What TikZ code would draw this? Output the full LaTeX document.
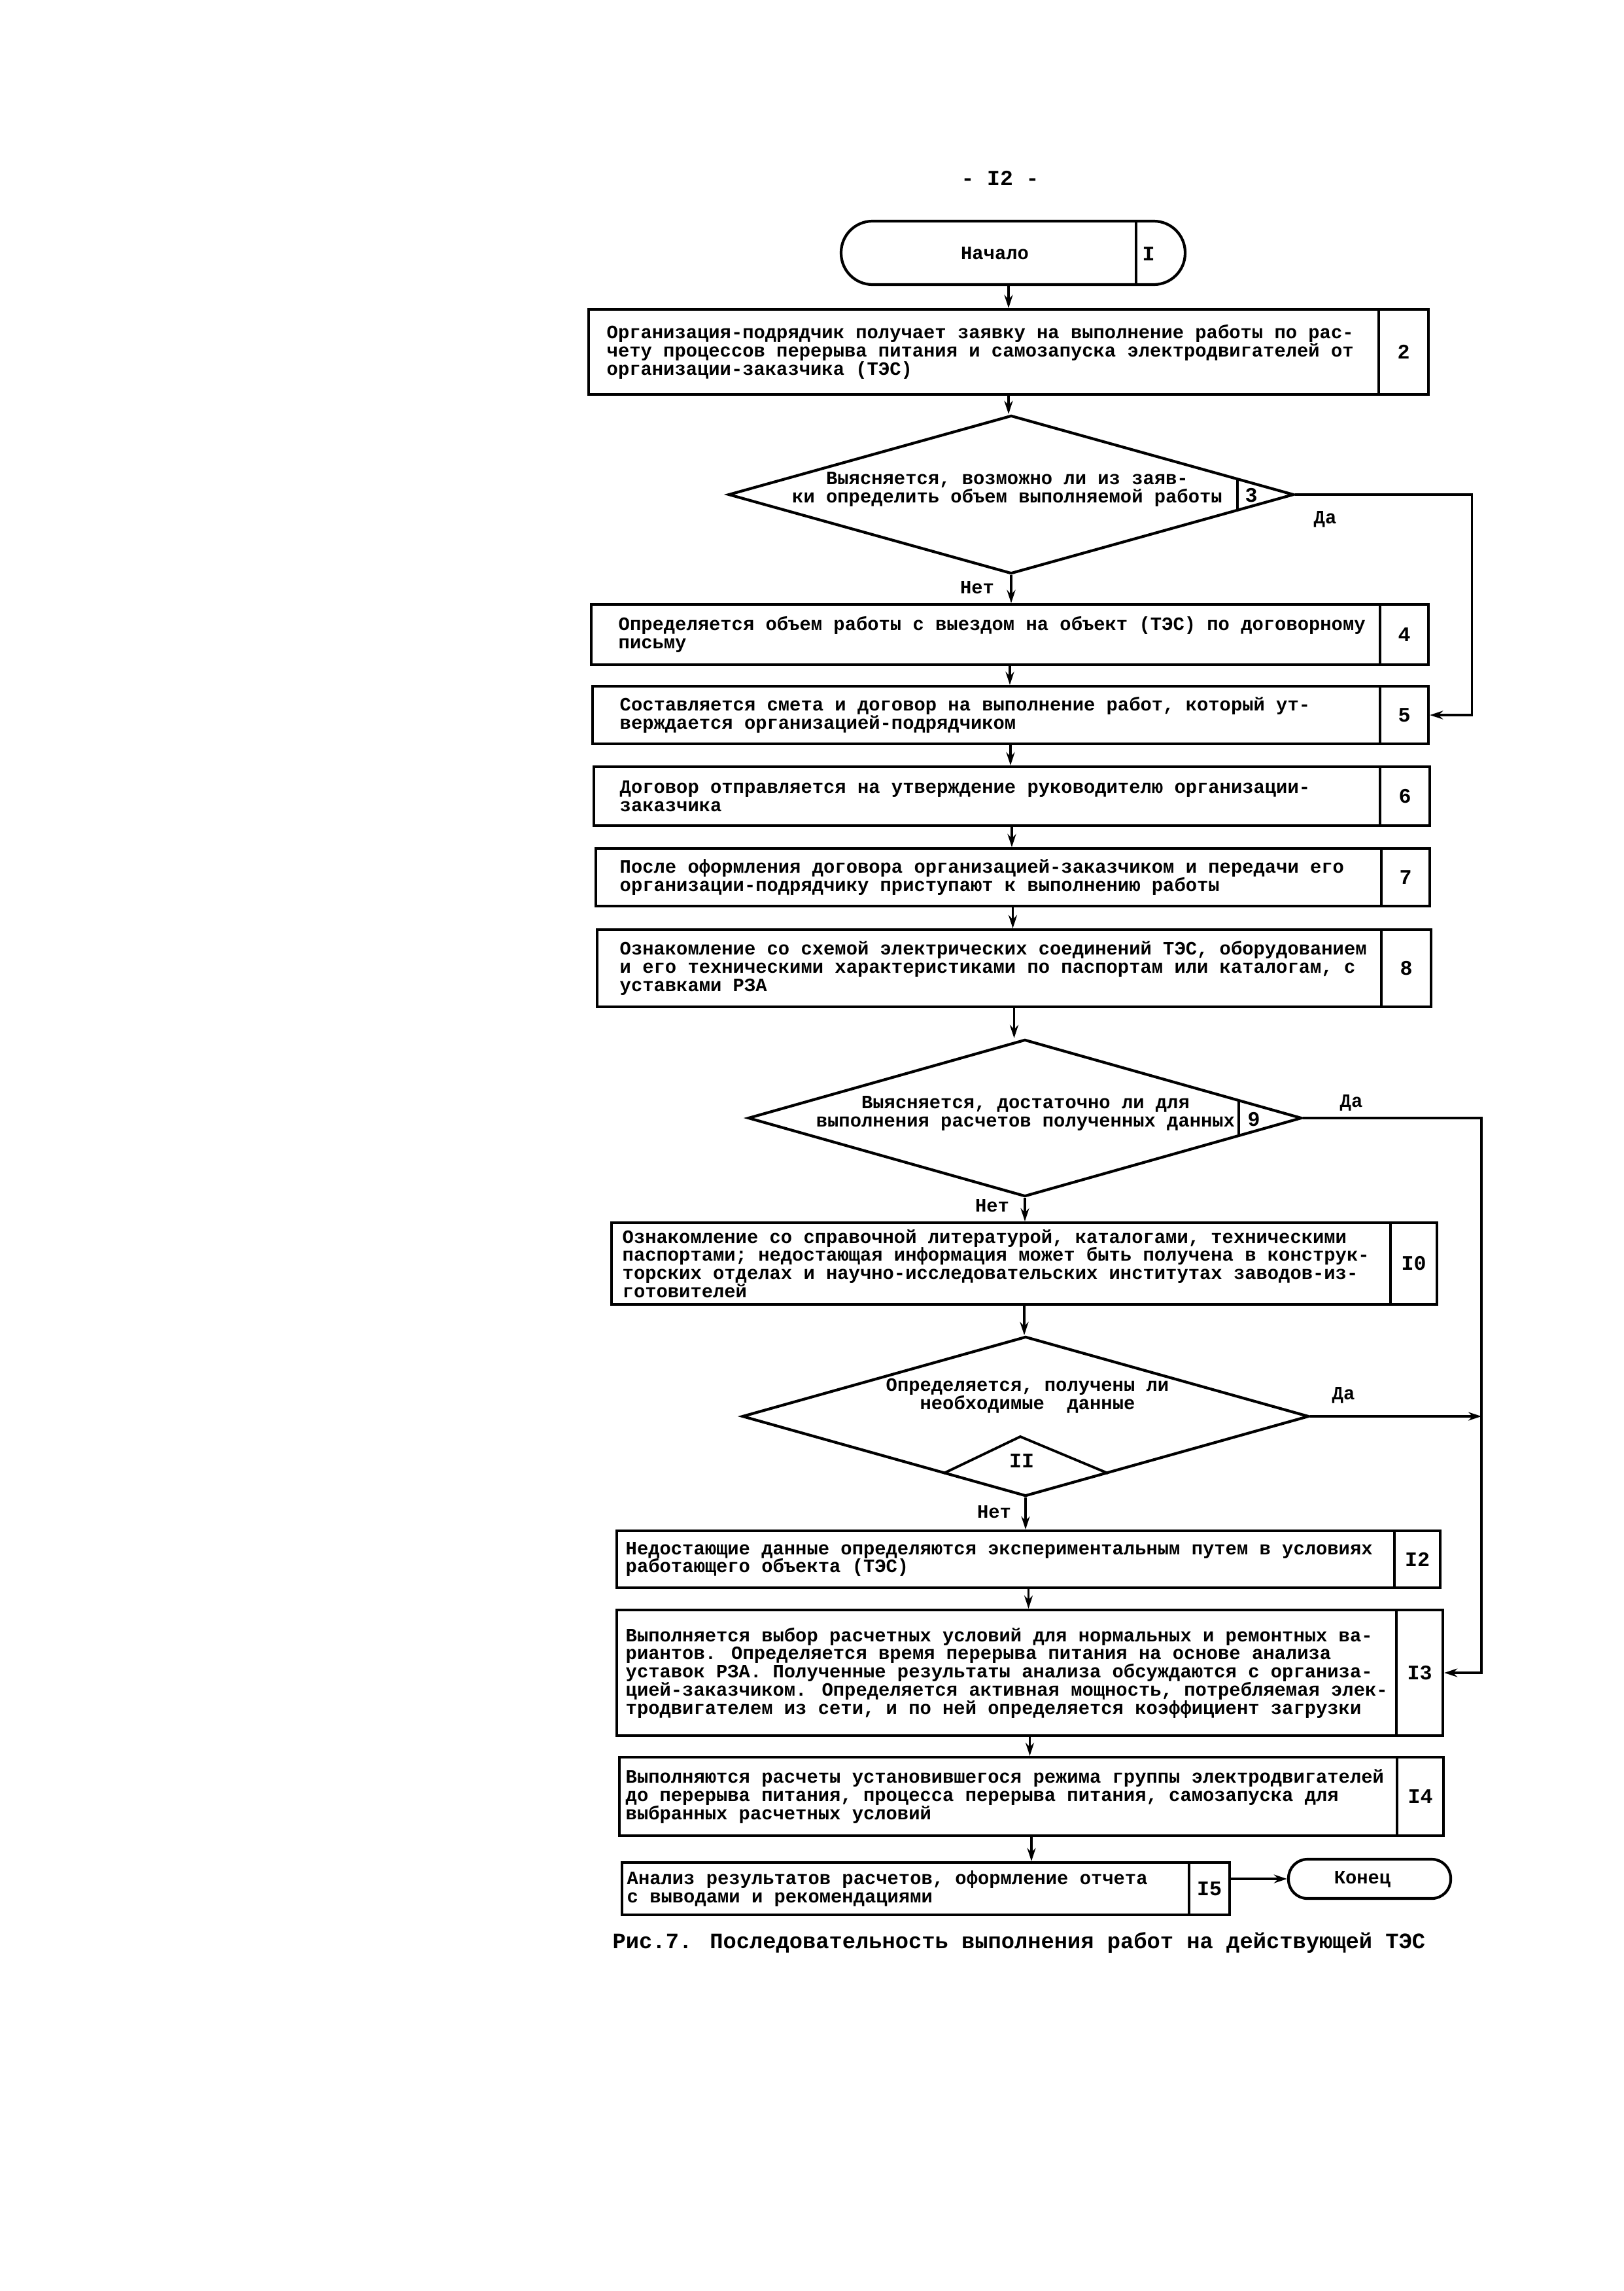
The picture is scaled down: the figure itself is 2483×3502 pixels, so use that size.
\documentclass[tikz,border=0pt]{standalone}
\usepackage{fontspec}
\setmainfont{Liberation Mono}
\usetikzlibrary{shapes.geometric,fit,arrows.meta}
\newcommand\procbox[9]{%
  \node[prc, fit={(#2,#3) (#4,#5)}] (#1) {};
  \draw[divl] (#6,#3) -- (#6,#5);
  \node[numtext] (#1n) at ({(#6+#4)/2},{(#3+#5)/2}) {#7};
  \node[boxtext] (#1t) at (#8,{(#3+#5)/2}) {#9};
}
\begin{document}
\begin{tikzpicture}[x=0.01cm,y=-0.01cm,
  every node/.style={font=\bfseries\fontsize{8.2pt}{7.9pt}\selectfont},
  prc/.style={draw, line width=1.2pt, inner sep=0pt, rectangle},
  trm/.style={draw, line width=1.2pt, inner sep=0pt, rectangle},
  divl/.style={line width=1.1pt},
  dmd/.style={draw, diamond, line width=1.2pt, inner sep=0pt},
  numtext/.style={inner sep=0pt, font=\bfseries\fontsize{9pt}{9pt}\selectfont},
  boxtext/.style={inner sep=0pt, anchor=west, align=left},
  dtext/.style={inner sep=0pt, align=center},
  lbl/.style={inner sep=0pt},
  arr/.style={line width=0.9pt, -{Stealth[length=0.2cm,width=0.13cm]}},
  ln/.style={line width=0.9pt}
]
\useasboundingbox (0,0) rectangle (2483,3502);
\fill[white] (0,0) rectangle (2483,3502);

% page number
\node[font=\bfseries\fontsize{9.4pt}{10pt}\selectfont] (pg) at (1529,272) {- I2 -};

% start terminal
\node[trm, fit={(1286,338) (1812,435)}, rounded corners=0.48cm] (t1) {};
\draw[divl] (1737,338) -- (1737,435);
\node[lbl] (t1t) at (1521,387) {Начало};
\node[numtext] (t1n) at (1756,388) {I};

% box 2
\procbox{b2}{900}{473}{2184}{603}{2108}{2}{927}{Организация-подрядчик получает заявку на выполнение работы по рас-\\чету процессов перерыва питания и самозапуска электродвигателей от\\организации-заказчика (ТЭС)}

% diamond 3
\node[dmd, minimum width=8.64cm, minimum height=2.42cm] (d3) at (1546,756) {};
\draw[divl] (1892,732) -- (1892,780);
\node[dtext] (d3t) at (1540,748) {Выясняется, возможно ли из заяв-\\ки определить объем выполняемой работы};
\node[numtext] (d3n) at (1913,757) {3};
\node[lbl] (da3) at (2026,794) {Да};
\node[lbl] (net3) at (1494,898) {Нет};

% boxes 4-8
\procbox{b4}{904}{924}{2184}{1016}{2110}{4}{945}{Определяется объем работы с выездом на объект (ТЭС) по договорному\\письму}
\procbox{b5}{906}{1049}{2184}{1137}{2110}{5}{947}{Составляется смета и договор на выполнение работ, который ут-\\верждается организацией-подрядчиком}
\procbox{b6}{908}{1172}{2186}{1262}{2110}{6}{947}{Договор отправляется на утверждение руководителю организации-\\заказчика}
\procbox{b7}{911}{1297}{2186}{1385}{2112}{7}{947}{После оформления договора организацией-заказчиком и передачи его\\организации-подрядчику приступают к выполнению работы}
\procbox{b8}{913}{1421}{2188}{1539}{2112}{8}{947}{Ознакомление со схемой электрических соединений ТЭС, оборудованием\\и его техническими характеристиками по паспортам или каталогам, с\\уставками РЗА}

% diamond 9
\node[dmd, minimum width=8.46cm, minimum height=2.40cm] (d9) at (1567,1709) {};
\draw[divl] (1894,1682) -- (1894,1736);
\node[dtext] (d9t) at (1568,1702) {Выясняется, достаточно ли для\\выполнения расчетов полученных данных};
\node[numtext] (d9n) at (1917,1711) {9};
\node[lbl] (da9) at (2066,1686) {Да};
\node[lbl] (net9) at (1517,1843) {Нет};
\coordinate (ja) at (2265,1709);

% box 10
\procbox{b10}{935}{1869}{2197}{1994}{2126}{I0}{951}{Ознакомление со справочной литературой, каталогами, техническими\\паспортами; недостающая информация может быть получена в конструк-\\торских отделах и научно-исследовательских институтах заводов-из-\\готовителей}

% diamond 11
\node[dmd, minimum width=8.66cm, minimum height=2.44cm] (d11) at (1568,2165) {};
\draw[divl] (1443,2252) -- (1560,2196) -- (1694,2252);
\node[dtext] (d11t) at (1571,2134) {Определяется, получены ли\\необходимые\ \ данные};
\node[numtext] (d11n) at (1562,2233) {II};
\node[lbl] (da11) at (2054,2133) {Да};
\node[lbl] (net11) at (1520,2311) {Нет};

% boxes 12-15
\procbox{b12}{943}{2340}{2202}{2427}{2132}{I2}{956}{Недостающие данные определяются экспериментальным путем в условиях\\работающего объекта (ТЭС)}
\procbox{b13}{943}{2461}{2206}{2653}{2135}{I3}{956}{Выполняется выбор расчетных условий для нормальных и ремонтных ва-\\риантов. Определяется время перерыва питания на основе анализа\\уставок РЗА. Полученные результаты анализа обсуждаются с организа-\\цией-заказчиком. Определяется активная мощность, потребляемая элек-\\тродвигателем из сети, и по ней определяется коэффициент загрузки}
\procbox{b14}{947}{2686}{2207}{2806}{2136}{I4}{956}{Выполняются расчеты установившегося режима группы электродвигателей\\до перерыва питания, процесса перерыва питания, самозапуска для\\выбранных расчетных условий}
\procbox{b15}{951}{2847}{1880}{2927}{1818}{I5}{958}{Анализ результатов расчетов, оформление отчета\\с выводами и рекомендациями}

% end terminal
\node[trm, fit={(1970,2842) (2218,2902)}, rounded corners=0.29cm] (t2) {};
\node[lbl] (t2t) at (2083,2873) {Конец};

% caption
\node[font=\bfseries\fontsize{9.6pt}{11pt}\selectfont] (cap) at (1558,2970) {Рис.7. Последовательность выполнения работ на действующей ТЭС};

% connectors
\draw[arr] (b2.north |- t1.south) -- (b2.north);
\draw[arr] (b2.south) -- (b2.south |- d3.north);
\draw[arr] (d3.south) -- (d3.south |- b4.north);
\draw[arr] (d3.east) -- ++(270,0) |- (b5.east);
\draw[arr] (b4.south) -- (b4.south |- b5.north);
\draw[arr] (b5.south) -- (b5.south |- b6.north);
\draw[arr] (b6.south) -- (b6.south |- b7.north);
\draw[arr] (b7.south) -- (b7.south |- b8.north);
\draw[arr] (b8.south) -- (b8.south |- d9.north);
\draw[arr] (d9.south) -- (d9.south |- b10.north);
\draw[arr] (d9.east) -- (ja) |- (b13.east);
\draw[arr] (b10.south) -- (b10.south |- d11.north);
\draw[arr] (d11.east) -- (d11.east -| ja);
\draw[arr] (d11.south) -- (d11.south |- b12.north);
\draw[arr] (b12.south) -- (b12.south |- b13.north);
\draw[arr] (b13.south) -- (b13.south |- b14.north);
\draw[arr] (b14.south) -- (b14.south |- b15.north);
\draw[arr] (b15.east |- t2.west) -- (t2.west);
\end{tikzpicture}
\end{document}
